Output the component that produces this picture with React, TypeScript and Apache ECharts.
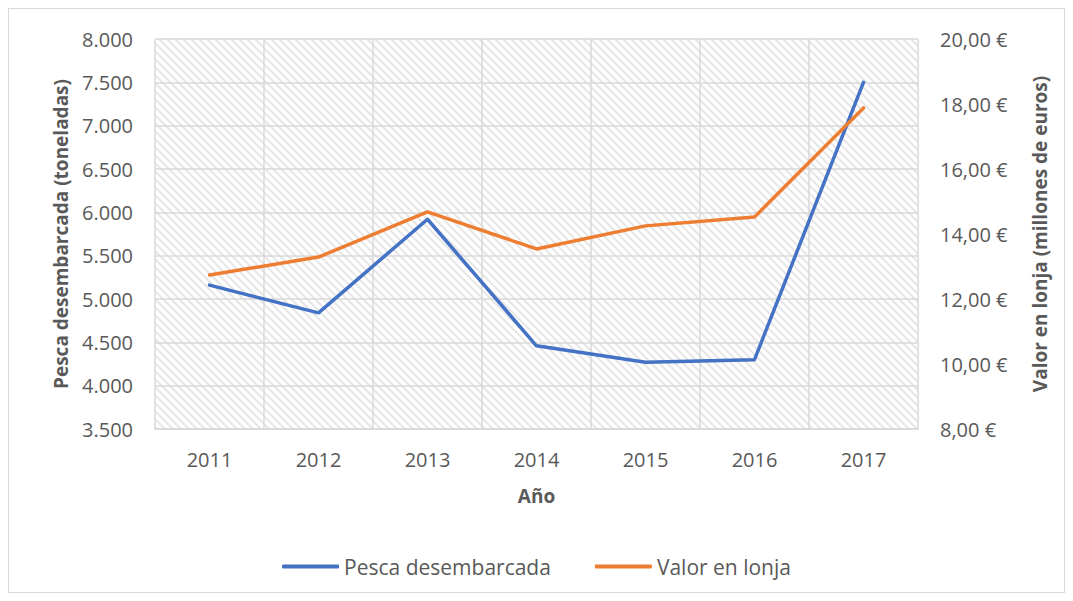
import React, { useEffect, useRef } from "react";
import * as echarts from "echarts";

const years = ["2011", "2012", "2013", "2014", "2015", "2016", "2017"];
const pesca = [5160, 4840, 5920, 4460, 4270, 4300, 7500];
const valor = [12.74, 13.29, 14.68, 13.54, 14.25, 14.52, 17.88];

const FONT = "'Open Sans', 'Liberation Sans', sans-serif";
const TXT = "#595959";
const FS = 20;

const hatchSvg =
  "<svg xmlns='http://www.w3.org/2000/svg' width='8' height='8'>" +
  "<path d='M-2,6 L2,10 M0,0 L8,8 M6,-2 L10,2' stroke='#e6e6e6' stroke-width='2'/></svg>";
const hatchUrl = "data:image/svg+xml;utf8," + encodeURIComponent(hatchSvg);

export default function App() {
  const ref = useRef<HTMLDivElement>(null);
  useEffect(() => {
    if (!ref.current) return;
    const chart = echarts.init(ref.current, undefined, { renderer: "svg" });
    chart.setOption({
      animation: false,
      textStyle: { fontFamily: FONT },
      grid: {
        left: 146,
        right: 146,
        top: 30,
        bottom: 163,
        show: true,
        borderWidth: 0,
        backgroundColor: {
          image: hatchUrl,
          repeat: "repeat",
          imageWidth: 8,
          imageHeight: 8,
        } as any,
      },
      legend: {
        bottom: 10,
        left: "center",
        itemWidth: 57,
        itemHeight: 4,
        itemGap: 44,
        icon: "roundRect",
        textStyle: { color: TXT, fontSize: 21, fontFamily: FONT },
        data: ["Pesca desembarcada", "Valor en lonja"],
      },
      xAxis: {
        type: "category",
        data: years,
        boundaryGap: true,
        name: "Año",
        nameLocation: "middle",
        nameGap: 57,
        nameTextStyle: { color: TXT, fontSize: 19, fontWeight: "bold" },
        axisLine: { show: true, lineStyle: { color: "#d9d9d9", width: 1.5 } },
        axisTick: { show: false },
        axisLabel: { color: TXT, fontSize: FS, margin: 20 },
        splitLine: { show: true, lineStyle: { color: "#d9d9d9", width: 1.5 } },
      },
      yAxis: [
        {
          type: "value",
          min: 3500,
          max: 8000,
          interval: 500,
          name: "Pesca desembarcada (toneladas)",
          nameLocation: "middle",
          nameGap: 85,
          nameTextStyle: { color: TXT, fontSize: 19, fontWeight: "bold" },
          axisLine: { show: false },
          axisTick: { show: false },
          axisLabel: {
            color: TXT,
            fontSize: FS,
            margin: 22,
            formatter: (v: number) => v.toLocaleString("de-DE"),
          },
          splitLine: { show: true, lineStyle: { color: "#d9d9d9", width: 1.5 } },
        },
        {
          type: "value",
          min: 8,
          max: 20,
          interval: 2,
          name: "Valor en lonja (millones de euros)",
          nameLocation: "middle",
          nameGap: 112,
          nameTextStyle: { color: TXT, fontSize: 19, fontWeight: "bold" },
          axisLine: { show: false },
          axisTick: { show: false },
          axisLabel: {
            color: TXT,
            fontSize: FS,
            margin: 22,
            formatter: (v: number) => v.toFixed(2).replace(".", ",") + " €",
          },
          splitLine: { show: false },
        },
      ],
      series: [
        {
          name: "Pesca desembarcada",
          type: "line",
          data: pesca,
          yAxisIndex: 0,
          showSymbol: false,
          symbol: "none",
          lineStyle: { color: "#4472C4", width: 3.5, cap: "round", join: "round" },
          itemStyle: { color: "#4472C4" },
        },
        {
          name: "Valor en lonja",
          type: "line",
          data: valor,
          yAxisIndex: 1,
          showSymbol: false,
          symbol: "none",
          lineStyle: { color: "#ED7D31", width: 3.5, cap: "round", join: "round" },
          itemStyle: { color: "#ED7D31" },
        },
      ],
    });
    return () => chart.dispose();
  }, []);
  return (
    <div
      style={{
        width: 1057,
        height: 585,
        border: "1px solid #d9d9d9",
        boxSizing: "border-box",
        background: "#fff",
      }}
    >
      <div ref={ref} style={{ width: 1055, height: 583 }} />
    </div>
  );
}
